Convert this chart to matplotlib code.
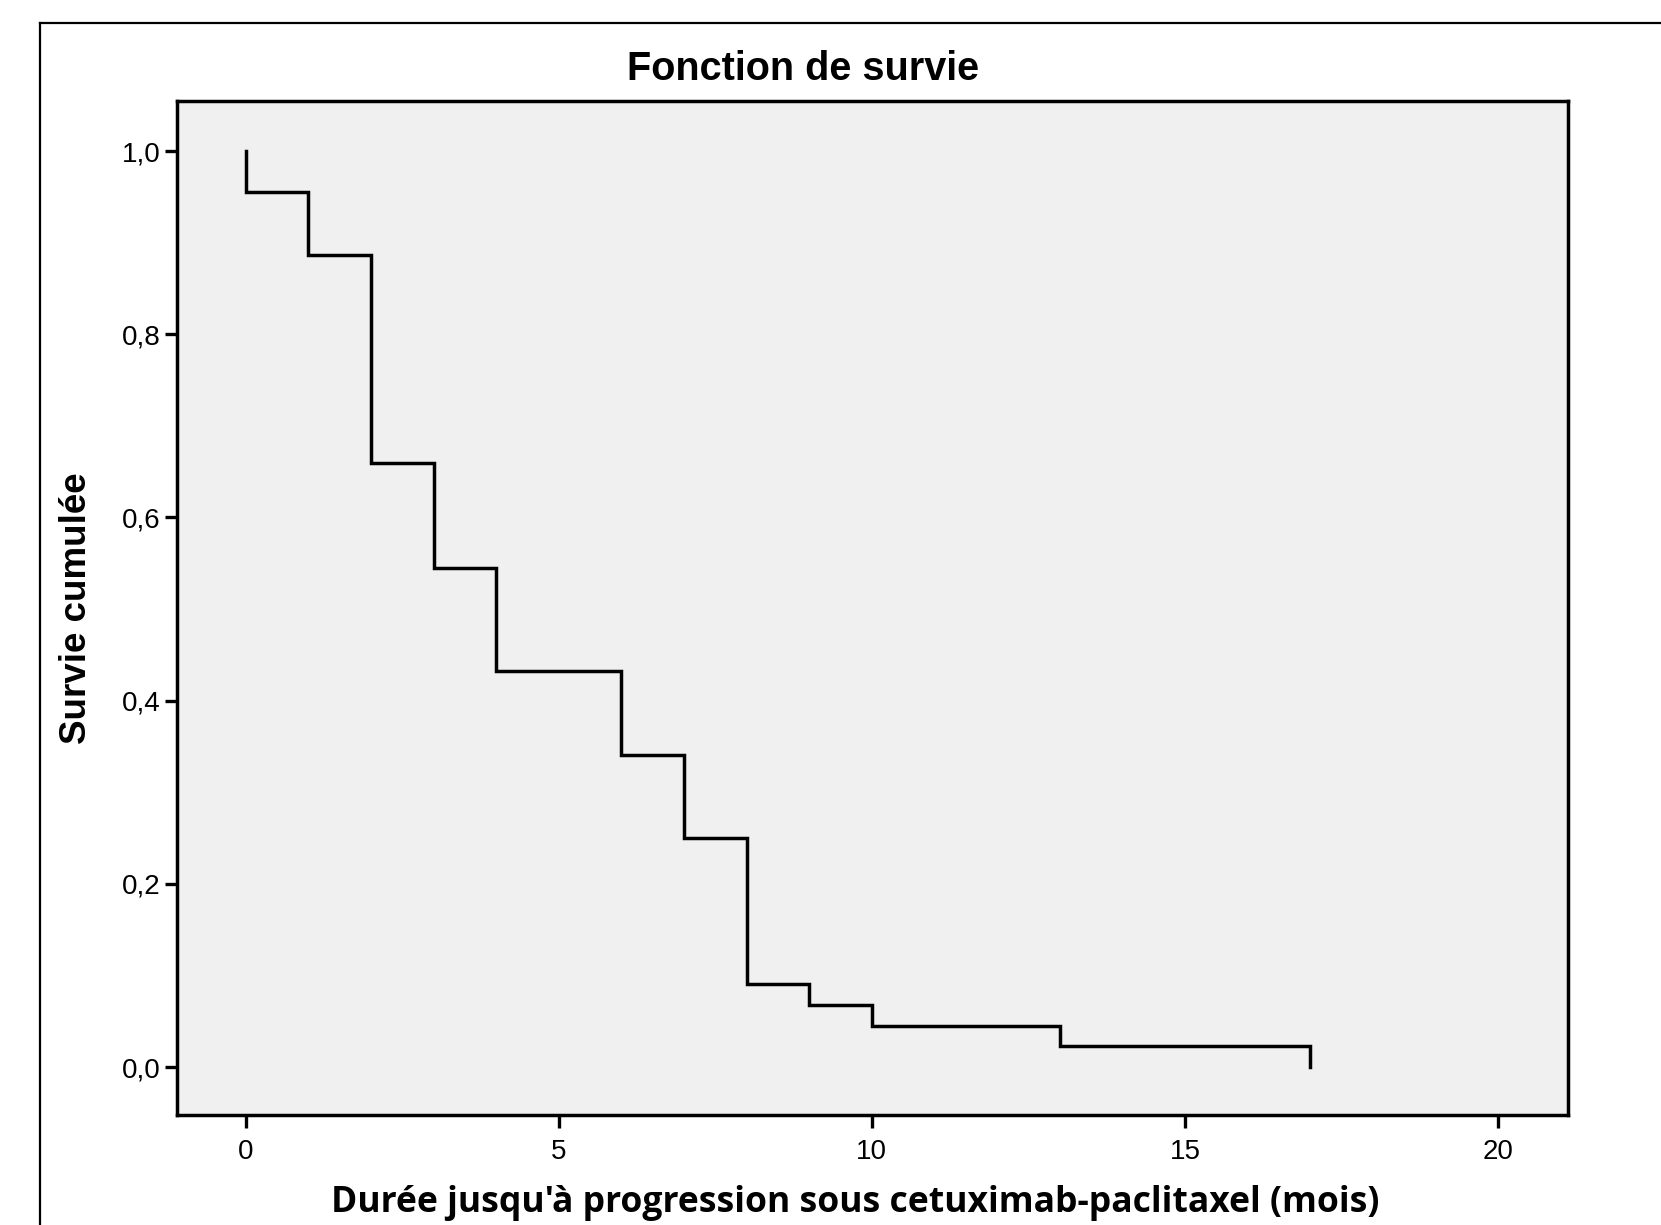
import matplotlib
matplotlib.use('Agg')
import matplotlib.pyplot as plt
from matplotlib.lines import Line2D

# Kaplan-Meier estimate
event_times = [0, 1, 2, 3, 4, 6, 7, 8, 9, 10, 13, 17]
survival = [0.955, 0.886, 0.659, 0.545, 0.432, 0.341, 0.250, 0.091, 0.068, 0.045, 0.023, 0.0]
x_ticks = [0, 5, 10, 15, 20]
y_ticks = [0.0, 0.2, 0.4, 0.6, 0.8, 1.0]
y_ticklabels = ['0,0', '0,2', '0,4', '0,6', '0,8', '1,0']

W, H = 1661, 1225
fig = plt.figure(figsize=(W / 100, H / 100), dpi=100)
ax = fig.add_axes([177 / W, 1 - 1115 / H, (1568 - 177) / W, (1115 - 101) / H])
ax.set_facecolor('#f0f0f0')

# build the step path
xs, ys = [0], [1.0]
prev = 1.0
for t, s in zip(event_times, survival):
    xs += [t, t]
    ys += [prev, s]
    prev = s
ax.plot(xs, ys, color='black', lw=2.5, solid_joinstyle='miter')

ax.set_xlim(-1.10, 21.12)
ax.set_ylim(-0.0524, 1.0546)
ax.set_xticks(x_ticks)
ax.set_xticklabels([str(v) for v in x_ticks])
ax.set_yticks(y_ticks)
ax.set_yticklabels(y_ticklabels)
for lab in ax.get_xticklabels() + ax.get_yticklabels():
    lab.set_family(['Liberation Sans', 'DejaVu Sans'])
    lab.set_fontsize(20)
ax.tick_params(axis='x', direction='out', length=9, width=2.4, pad=8)
ax.tick_params(axis='y', direction='out', length=9, width=2.4, pad=3)
for sp in ax.spines.values():
    sp.set_linewidth(2.5)

fig.text(803 / W, 1 - 69 / H, 'Fonction de survie', ha='center', va='center',
         fontsize=28.5, fontweight='bold', family=['Liberation Sans', 'DejaVu Sans'])
fig.text(855 / W, 1 - 1203 / H, "Durée jusqu'à progression sous cetuximab-paclitaxel (mois)",
         ha='center', va='center', fontsize=25.6, fontweight='bold',
         family=['Open Sans', 'DejaVu Sans'])
fig.text(77 / W, 1 - 608 / H, 'Survie cumulée', ha='center', va='center', rotation=90,
         fontsize=26.5, fontweight='bold', family=['Liberation Sans', 'DejaVu Sans'])

# outer frame (only top and left edges fall inside the image)
fig.add_artist(Line2D([40 / W, 40 / W], [0, 1 - 23 / H], transform=fig.transFigure,
                      color='black', lw=1.6))
fig.add_artist(Line2D([40 / W, 1], [1 - 23 / H, 1 - 23 / H], transform=fig.transFigure,
                      color='black', lw=1.6))

fig.savefig('out.png', dpi=100)
